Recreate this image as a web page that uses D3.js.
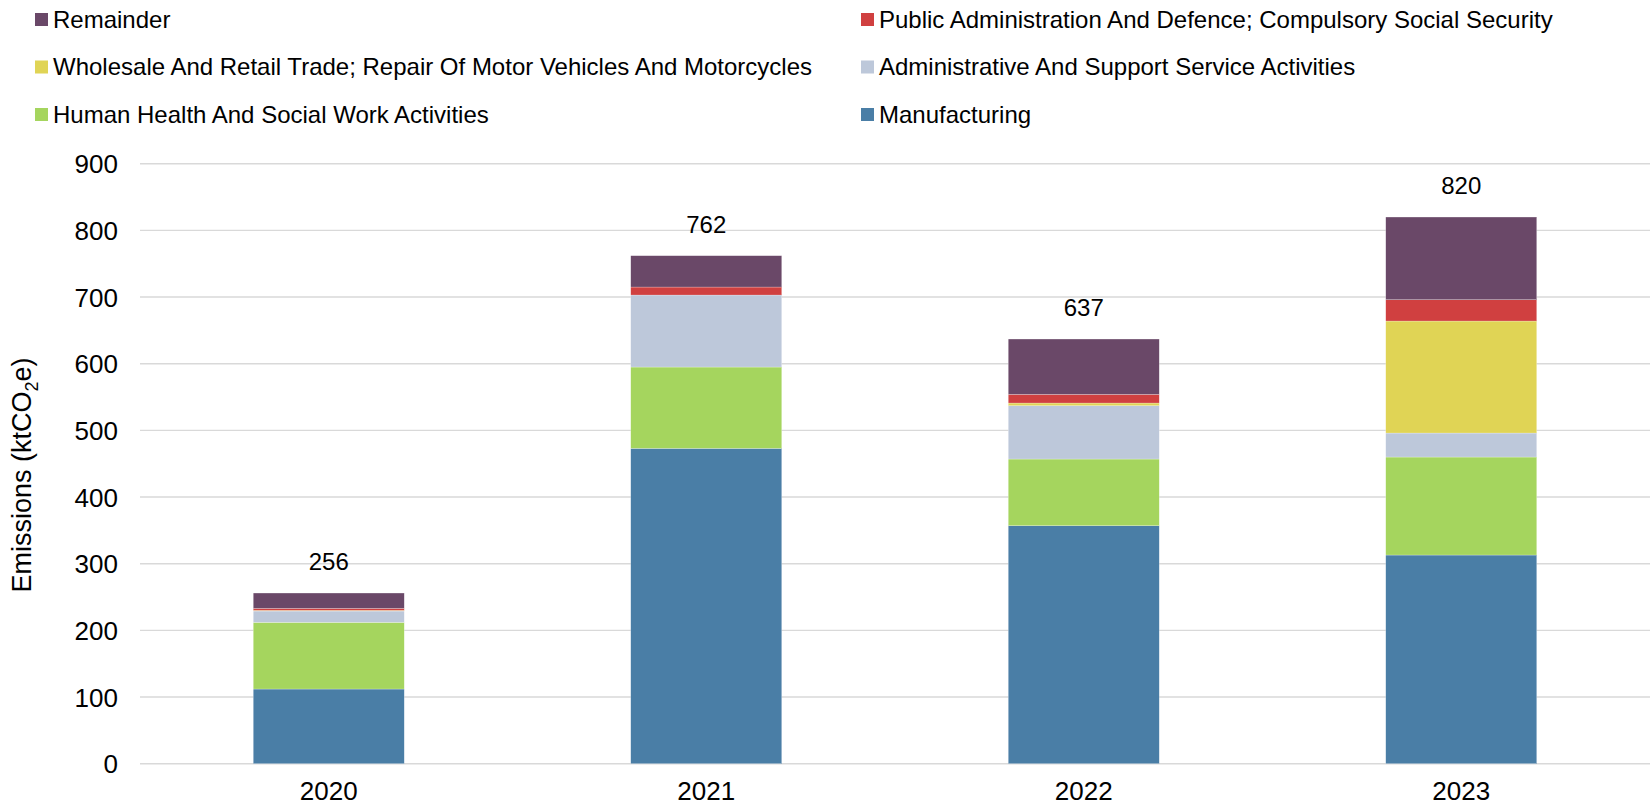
<!DOCTYPE html>
<html>
<head>
<meta charset="utf-8">
<script src="https://cdn.jsdelivr.net/npm/d3@7"></script>
<style>
  html, body { margin: 0; padding: 0; background: #fff; }
  text { font-family: "Liberation Sans", Arial, sans-serif; fill: #000; }
</style>
</head>
<body>
<svg id="chart" width="1652" height="810"></svg>
<script>
// ---- data ----
const years = ["2020", "2021", "2022", "2023"];
const manufacturing = [112, 473, 357, 313];
const health = [100, 122, 100, 147];
const administrative = [17, 108, 80, 36];
const wholesale = [1, 0, 4, 168];
const publicAdmin = [3, 12, 13, 32];
const remainder = [23, 47, 83, 124];
const totals = [256, 762, 637, 820];
const yTicks = [0, 100, 200, 300, 400, 500, 600, 700, 800, 900];

const seriesNames = [
  "Manufacturing",
  "Human Health And Social Work Activities",
  "Administrative And Support Service Activities",
  "Wholesale And Retail Trade; Repair Of Motor Vehicles And Motorcycles",
  "Public Administration And Defence; Compulsory Social Security",
  "Remainder"
];
const seriesValues = [manufacturing, health, administrative, wholesale, publicAdmin, remainder];
const colors = ["#4a7ea6", "#a5d55e", "#bdc8da", "#e0d455", "#d04040", "#6a4868"];
// legend order (row by row, left column then right column)
const legendOrder = [5, 4, 3, 2, 1, 0];

// ---- build table ----
const table = years.map((y, i) => {
  const row = { year: y };
  seriesNames.forEach((n, k) => { row[n] = seriesValues[k][i]; });
  return row;
});

const svg = d3.select("#chart");
const x = d3.scaleBand().domain(years).range([140, 1650]).paddingInner(0.6).paddingOuter(0.3);
const y = d3.scaleLinear().domain([0, 900]).range([763.7, 163.7]);

// gridlines
svg.append("g").selectAll("line").data(yTicks).join("line")
  .attr("x1", 140).attr("x2", 1650)
  .attr("y1", d => y(d)).attr("y2", d => y(d))
  .attr("stroke", "#d9d9d9").attr("stroke-width", 1.4);

// y axis labels
const yAxis = d3.axisLeft(y).tickValues(yTicks).tickSize(0).tickPadding(0);
const gy = svg.append("g").attr("transform", "translate(118,0)").call(yAxis);
gy.select(".domain").remove();
gy.selectAll("text").style("font-family", '"Liberation Sans", Arial, sans-serif')
  .style("font-size", "26px").attr("fill", "#000").attr("dy", "0.35em");

// x axis labels
const xAxis = d3.axisBottom(x).tickSize(0).tickPadding(0);
const gx = svg.append("g").attr("transform", "translate(0,782)").call(xAxis);
gx.select(".domain").remove();
gx.selectAll("text").style("font-family", '"Liberation Sans", Arial, sans-serif')
  .style("font-size", "26px").attr("fill", "#000").attr("dy", "0.71em");

// stacked bars
const stack = d3.stack().keys(seriesNames);
const stacked = stack(table);
svg.append("g").selectAll("g").data(stacked).join("g")
  .attr("fill", (d, i) => colors[i])
  .selectAll("rect").data(d => d).join("rect")
  .attr("x", d => x(d.data.year))
  .attr("width", x.bandwidth())
  .attr("y", d => y(d[1]))
  .attr("height", d => Math.max(0, y(d[0]) - y(d[1])))
  .attr("stroke", "#ffffff").attr("stroke-width", 0.4).attr("stroke-opacity", 0.6);

// total labels
svg.append("g").selectAll("text").data(years).join("text")
  .attr("x", d => x(d) + x.bandwidth() / 2)
  .attr("y", (d, i) => y(totals[i]) - 23)
  .attr("text-anchor", "middle")
  .style("font-size", "24px")
  .text((d, i) => totals[i]);

// y axis title
const title = svg.append("text")
  .attr("transform", "translate(31,475) rotate(-90)")
  .attr("text-anchor", "middle")
  .style("font-size", "27px");
title.append("tspan").text("Emissions (ktCO");
title.append("tspan").attr("dy", 7).style("font-size", "18px").text("2");
title.append("tspan").attr("dy", -7).text("e)");

// legend
const legendX = [35, 861];
const legend = svg.append("g").selectAll("g").data(legendOrder).join("g")
  .attr("transform", (d, i) => `translate(${legendX[i % 2]},${19.5 + Math.floor(i / 2) * 47.5})`);
legend.append("rect").attr("x", 0).attr("y", -6.5).attr("width", 13).attr("height", 13)
  .attr("fill", d => colors[d]);
legend.append("text").attr("x", 18).attr("y", 0).attr("dy", "0.35em")
  .style("font-size", "24px").text(d => seriesNames[d]);
</script>
</body>
</html>
